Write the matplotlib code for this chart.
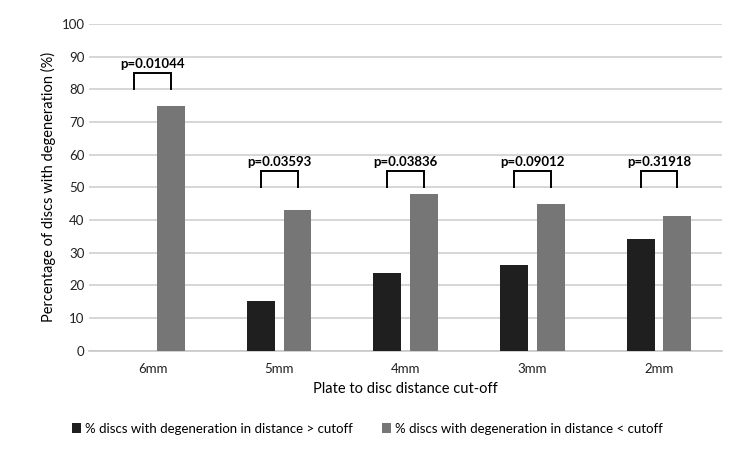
import numpy as np
import matplotlib.pyplot as plt

plt.rcParams['font.family'] = ['Lato', 'DejaVu Sans']

# data
cutoffs = ['6mm', '5mm', '4mm', '3mm', '2mm']
above_cutoff = [0, 15.4, 23.8, 26.4, 34.2]   # % discs with degeneration in distance > cutoff
below_cutoff = [75.0, 43.0, 48.0, 45.0, 41.3]  # % discs with degeneration in distance < cutoff
p_values = ['p=0.01044', 'p=0.03593', 'p=0.03836', 'p=0.09012', 'p=0.31918']
bracket_low = [80, 50, 50, 50, 50]
bracket_high = [85, 55, 55, 55, 55]

fig = plt.figure(figsize=(7.5, 4.51), dpi=100)
ax = fig.add_axes([0.119, 0.222, 0.844, 0.725])

x = np.arange(len(cutoffs))
w = 0.22
off = 0.145
ax.bar(x - off, above_cutoff, w, color='#1f1f1f', zorder=3,
       label='% discs with degeneration in distance > cutoff')
ax.bar(x + off, below_cutoff, w, color='#767676', zorder=3,
       label='% discs with degeneration in distance < cutoff')

# significance brackets
for i in range(len(cutoffs)):
    lo, hi = bracket_low[i], bracket_high[i]
    ax.plot([x[i] - off, x[i] - off, x[i] + off, x[i] + off], [lo, hi, hi, lo],
            color='black', lw=1.4, zorder=4, solid_joinstyle='miter')
    ax.text(x[i], hi + 1.0, p_values[i], ha='center', va='bottom',
            fontsize=9.5, fontweight='bold')

ax.set_ylim(0, 100)
ax.set_xlim(-0.5, len(cutoffs) - 0.5)
ax.set_yticks(np.arange(0, 101, 10))
ax.set_xticks(x)
ax.set_xticklabels(cutoffs)
ax.yaxis.grid(True, color='#d0d0d0', lw=1.2, zorder=0)
ax.tick_params(length=0, labelsize=9.5, colors='#222222')
ax.tick_params(axis='x', pad=9)
for s in ['top', 'right', 'left']:
    ax.spines[s].set_visible(False)
ax.spines['bottom'].set_color('#c8c8c8')
ax.spines['bottom'].set_linewidth(1.2)

ax.set_ylabel('Percentage of discs with degeneration (%)', fontsize=10.5)
ax.set_xlabel('Plate to disc distance cut-off', fontsize=10.5, labelpad=5)

fig.legend(loc='lower center', bbox_to_anchor=(0.49, 0.01), ncol=2, frameon=False,
           fontsize=9.5, handlelength=0.7, handleheight=0.7, columnspacing=2.2,
           handletextpad=0.3)

fig.savefig('out.png', dpi=100)
